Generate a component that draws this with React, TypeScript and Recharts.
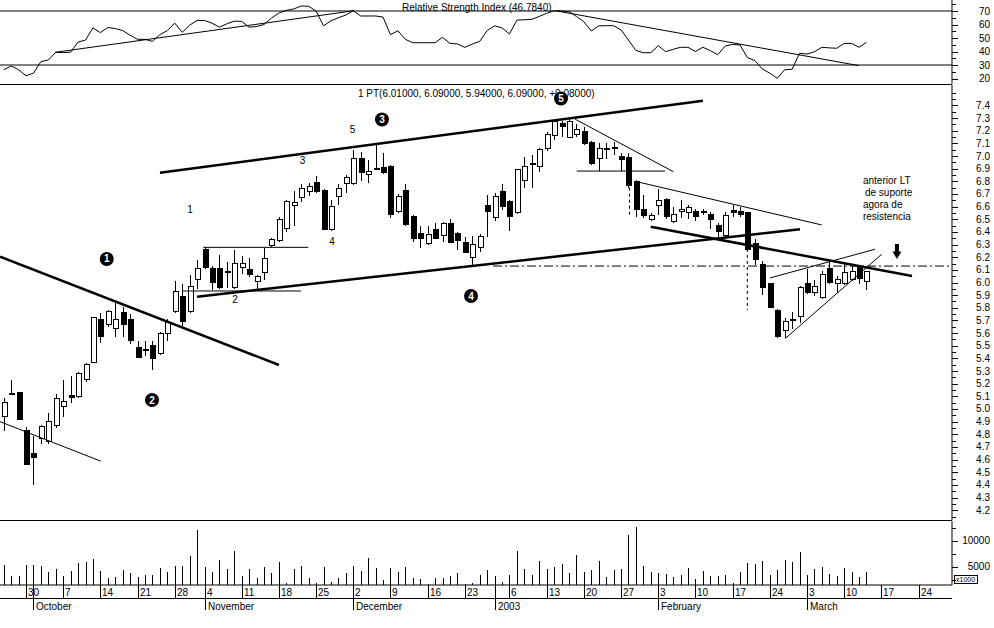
import React from "react";
import { ComposedChart, Bar, Line, XAxis, YAxis, ReferenceLine, ReferenceDot } from "recharts";

const FONT = "'Liberation Sans', Arial, sans-serif";
const INK = "#000";
const PLOT_RIGHT = 952;
const X_DOMAIN: [number, number] = [-0.5, 127.5];
const RSI_DOMAIN: [number, number] = [15.93, 78.15];
const PRICE_DOMAIN: [number, number] = [4.1225, 7.5613];
const VOL_DOMAIN: [number, number] = [1538, 13846];
const AX = 64; // x axis line inside the volume chart

// trading days (Lisbon), Sep 2002 - Mar 2003
const sepDays = [25, 26, 27, 30];
const octDays = [1, 2, 3, 4, 7, 8, 9, 10, 11, 14, 15, 16, 17, 18, 21, 22, 23, 24, 25, 28, 29, 30, 31];
const novDays = [4, 5, 6, 7, 8, 11, 12, 13, 14, 15, 18, 19, 20, 21, 22, 25, 26, 27, 28, 29];
const decDays = [2, 3, 4, 5, 6, 9, 10, 11, 12, 13, 16, 17, 18, 19, 20, 23, 27, 30, 31];
const janDays = [2, 3, 6, 7, 8, 9, 10, 13, 14, 15, 16, 17, 20, 21, 22, 23, 24, 27, 28, 29, 30, 31];
const febDays = [3, 4, 5, 6, 7, 10, 11, 12, 13, 14, 17, 18, 19, 20, 21, 24, 25, 26, 27, 28];
const marDays = [3, 4, 5, 6, 7, 10, 11, 12, 13, 14, 17, 18, 19, 20, 21, 24, 25, 26, 27, 28];

const openP = [
  4.94, 5.12, 5.13, 4.83, 4.65, 4.77, 4.74, 4.87, 5.02, 5.11,
  5.10, 5.23, 5.37, 5.71, 5.67, 5.64, 5.76, 5.71, 5.49, 5.46,
  5.50, 5.44, 5.60, 5.77, 5.89, 5.77, 6.02, 6.26, 6.11, 6.11,
  6.09, 5.96, 6.12, 6.10, 6.01, 6.08, 6.29, 6.33, 6.43, 6.61,
  6.67, 6.72, 6.79, 6.73, 6.42, 6.68, 6.78, 6.78, 6.98, 6.85,
  6.90, 6.91, 6.92, 6.56, 6.73, 6.52, 6.39, 6.31, 6.42, 6.37,
  6.47, 6.39, 6.32, 6.20, 6.28, 6.61, 6.51, 6.72, 6.64, 6.55,
  6.81, 6.93, 6.92, 7.06, 7.16, 7.26, 7.15, 7.17, 7.19, 7.11,
  6.98, 7.06, 7.06, 7.00, 6.99, 6.80, 6.58, 6.50, 6.61, 6.66,
  6.48, 6.56, 6.55, 6.56, 6.55, 6.54, 6.45, 6.37, 6.57, 6.56,
  6.55, 6.31, 6.14, 5.99, 5.78, 5.62, 5.70, 5.73, 5.99, 5.92,
  5.88, 6.11, 5.99, 5.99, 6.02, 6.13, 6.01,
];
const highP = [
  5.09, 5.23, 5.13, 4.86, 4.79, 4.87, 4.97, 5.12, 5.23, 5.26,
  5.29, 5.36, 5.73, 5.76, 5.78, 5.84, 5.81, 5.75, 5.54, 5.54,
  5.54, 5.61, 5.71, 6.01, 5.99, 6.06, 6.18, 6.28, 6.13, 6.22,
  6.16, 6.26, 6.21, 6.19, 6.06, 6.27, 6.35, 6.52, 6.65, 6.72,
  6.78, 6.79, 6.84, 6.74, 6.65, 6.78, 6.85, 7.05, 7.03, 6.97,
  7.09, 7.02, 6.93, 6.70, 6.78, 6.53, 6.45, 6.45, 6.47, 6.48,
  6.50, 6.40, 6.36, 6.37, 6.38, 6.69, 6.71, 6.78, 6.65, 6.90,
  6.99, 7.01, 7.06, 7.19, 7.28, 7.28, 7.30, 7.25, 7.23, 7.12,
  7.10, 7.10, 7.11, 7.02, 7.02, 6.81, 6.69, 6.55, 6.74, 6.67,
  6.60, 6.65, 6.61, 6.58, 6.58, 6.56, 6.47, 6.56, 6.61, 6.60,
  6.56, 6.34, 6.17, 6.00, 5.79, 5.72, 5.77, 5.97, 6.11, 6.02,
  6.09, 6.16, 6.05, 6.15, 6.14, 6.14, 6.09,
];
const lowP = [
  4.83, 5.11, 4.91, 4.56, 4.40, 4.72, 4.72, 4.85, 4.94, 5.05,
  5.09, 5.21, 5.36, 5.52, 5.65, 5.57, 5.57, 5.51, 5.41, 5.42,
  5.31, 5.43, 5.54, 5.76, 5.66, 5.76, 5.95, 6.11, 5.94, 5.95,
  5.96, 5.95, 6.07, 6.04, 5.94, 6.02, 6.28, 6.32, 6.40, 6.45,
  6.64, 6.68, 6.71, 6.42, 6.41, 6.61, 6.71, 6.77, 6.80, 6.79,
  6.89, 6.86, 6.51, 6.55, 6.45, 6.32, 6.27, 6.30, 6.34, 6.32,
  6.31, 6.26, 6.23, 6.13, 6.24, 6.36, 6.49, 6.57, 6.41, 6.54,
  6.75, 6.75, 6.87, 7.04, 7.13, 7.15, 7.14, 7.15, 7.09, 6.93,
  6.88, 6.98, 7.01, 6.88, 6.75, 6.52, 6.51, 6.49, 6.53, 6.50,
  6.47, 6.51, 6.50, 6.49, 6.53, 6.42, 6.36, 6.36, 6.52, 6.52,
  6.25, 6.14, 5.90, 5.80, 5.56, 5.56, 5.63, 5.68, 5.91, 5.89,
  5.87, 5.99, 5.92, 5.98, 6.01, 5.99, 5.94,
];
const closeP = [
  5.05, 5.12, 4.92, 4.56, 4.62, 4.86, 4.90, 5.08, 5.06, 5.09,
  5.28, 5.35, 5.72, 5.57, 5.77, 5.71, 5.67, 5.54, 5.41, 5.47,
  5.40, 5.60, 5.68, 5.93, 5.69, 5.97, 6.11, 6.12, 6.00, 5.96,
  6.08, 6.15, 6.15, 6.06, 6.05, 6.19, 6.34, 6.50, 6.64, 6.63,
  6.74, 6.76, 6.72, 6.42, 6.60, 6.74, 6.83, 6.98, 6.87, 6.88,
  6.90, 6.87, 6.54, 6.68, 6.46, 6.35, 6.35, 6.38, 6.35, 6.47,
  6.32, 6.33, 6.24, 6.30, 6.36, 6.56, 6.68, 6.60, 6.52, 6.89,
  6.92, 6.94, 7.05, 7.17, 7.27, 7.23, 7.27, 7.21, 7.10, 6.94,
  7.06, 7.06, 7.07, 6.97, 6.77, 6.58, 6.53, 6.53, 6.65, 6.52,
  6.54, 6.58, 6.59, 6.52, 6.56, 6.50, 6.40, 6.53, 6.55, 6.54,
  6.26, 6.18, 5.96, 5.80, 5.57, 5.69, 5.71, 5.96, 5.92, 5.97,
  6.06, 6.00, 6.02, 6.08, 6.09, 6.03, 6.09,
];
const volume = [
  5400, 3300, 3300, 5400, 5400, 5200, 4100, 4600, 3300, 4200,
  5700, 6000, 6500, 4200, 2900, 3100, 4400, 3800, 3100, 3500,
  3500, 4800, 4100, 5200, 5200, 7100, 12100, 5000, 4100, 6300,
  4600, 8100, 3300, 4600, 2900, 5000, 3800, 6000, 1900, 4600,
  5200, 2900, 1900, 5000, 2100, 2900, 3800, 5200, 4200, 6700,
  4800, 2500, 4800, 4100, 5000, 2900, 2700, 1700, 2900, 2900,
  3300, 3800, 1700, 1900, 3500, 4400, 3200, 2100, 3500, 8100,
  4600, 3500, 6200, 4600, 5000, 5600, 3800, 7300, 4000, 4400,
  6200, 3100, 4400, 4600, 11200, 12700, 5200, 4000, 3800, 3600,
  3100, 3500, 4800, 2700, 4200, 3300, 3300, 3500, 1900, 4000,
  5800, 5600, 6200, 3500, 4400, 6300, 6000, 7900, 3500, 4600,
  5000, 3600, 3300, 4800, 4000, 3100, 4000,
];
const rsi = [
  26.5, 29.3, 26.5, 22, 24, 32.5, 33.7, 39.4, 39.2, 39.5,
  47, 48.5, 57.5, 54, 57.8, 57, 55.5, 52, 49, 49,
  47.5, 52.5, 55.5, 61, 54.2, 59.5, 63, 63, 61, 58,
  60.5, 62.5, 62.3, 58, 58.5, 60, 64.8, 68.5, 70.5, 71.5,
  73.7, 73.5, 70, 59, 62.8, 65, 67, 70.2, 66.3, 66.3,
  66.3, 65.5, 52.5, 55.4, 49, 46.5, 46.5, 46.5, 46.5, 50.5,
  46, 45.6, 43.1, 45.5, 47.5, 55.5, 59, 57.5, 53, 63.3,
  63.5, 63.8, 66, 68.3, 70.2, 70, 69.5, 66, 62.1, 55.2,
  59, 59.1, 59.1, 56, 48.5, 40.8, 39.1, 39.1, 44.3, 39.9,
  41.6, 43.1, 43.1, 40, 43.1, 40.7, 37.6, 44, 45.3, 44.8,
  35.5, 33.3, 27, 24, 20.2, 26.5, 26.8, 38.7, 38.1, 39.8,
  43.1, 42.7, 42.4, 46, 46, 43.1, 46.8,
];

const weekTicks: [string, string][] = [
  ["09-30", "30"], ["10-07", "7"], ["10-14", "14"], ["10-21", "21"], ["10-28", "28"],
  ["11-04", "4"], ["11-11", "11"], ["11-18", "18"], ["11-25", "25"],
  ["12-02", "2"], ["12-09", "9"], ["12-16", "16"], ["12-23", "23"],
  ["01-06", "6"], ["01-13", "13"], ["01-20", "20"], ["01-27", "27"],
  ["02-03", "3"], ["02-10", "10"], ["02-17", "17"], ["02-24", "24"],
  ["03-03", "3"], ["03-10", "10"], ["03-17", "17"], ["03-24", "24"],
];
const monthTicks: [string, string][] = [
  ["10-01", "October"], ["11-04", "November"], ["12-02", "December"],
  ["01-02", "2003"], ["02-03", "February"], ["03-03", "March"],
];

const rsiTicks = [20, 25, 30, 35, 40, 45, 50, 55, 60, 65, 70, 75];
const rsiLabels = [20, 30, 40, 50, 60, 70];
const priceLabels = [
  4.2, 4.3, 4.4, 4.5, 4.6, 4.7, 4.8, 4.9, 5.0, 5.1, 5.2, 5.3, 5.4, 5.5, 5.6, 5.7, 5.8,
  5.9, 6.0, 6.1, 6.2, 6.3, 6.4, 6.5, 6.6, 6.7, 6.8, 6.9, 7.0, 7.1, 7.2, 7.3, 7.4,
];
const priceTicks = [4.15, ...priceLabels.map((v) => +(v + 0.05).toFixed(2)), ...priceLabels, 7.5];
const volTicks = [2500, 5000, 7500, 10000, 12500];
const volLabels = [5000, 10000];

type Seg = { x1: number; y1: number; x2: number; y2: number; w: number; dash?: string };
const priceLines: Seg[] = [
  { x1: -0.5, y1: 6.204, x2: 37.01, y2: 5.348, w: 2.5 },
  { x1: -0.5, y1: 4.9, x2: 13.04, y2: 4.588, w: 1 },
  { x1: 21.01, y1: 6.868, x2: 94.02, y2: 7.437, w: 2.5 },
  { x1: 25.99, y1: 5.888, x2: 107.06, y2: 6.421, w: 2.5 },
  { x1: 86.99, y1: 6.441, x2: 122.12, y2: 6.051, w: 2.5 },
  { x1: 85.11, y1: 6.797, x2: 109.98, y2: 6.455, w: 1 },
  { x1: 76.81, y1: 7.292, x2: 90.03, y2: 6.876, w: 1 },
  { x1: 77.04, y1: 6.881, x2: 88.91, y2: 6.881, w: 1 },
  { x1: 26.83, y1: 6.278, x2: 40.95, y2: 6.278, w: 1 },
  { x1: 24.06, y1: 5.933, x2: 39.97, y2: 5.933, w: 1 },
  { x1: 65.79, y1: 6.13, x2: 127.5, y2: 6.13, w: 1, dash: "9 3 2 3" },
  { x1: 84.14, y1: 6.797, x2: 84.14, y2: 6.52, w: 1, dash: "3 3" },
  { x1: 99.98, y1: 6.265, x2: 99.98, y2: 5.783, w: 1, dash: "3 3" },
  { x1: 103.03, y1: 6.036, x2: 117.15, y2: 6.263, w: 1 },
  { x1: 105.11, y1: 5.559, x2: 118.05, y2: 6.223, w: 1 },
];
const rsiLines: Seg[] = [
  { x1: 6.89, y1: 39.4, x2: 47.1, y2: 70.2, w: 1 },
  { x1: 74.39, y1: 70, x2: 115.0, y2: 29.5, w: 1 },
];

const circledMarks = [
  { i: 13.85, p: 6.186, n: "1" },
  { i: 19.94, p: 5.071, n: "2" },
  { i: 50.86, p: 7.289, n: "3" },
  { i: 62.83, p: 5.893, n: "4" },
  { i: 74.93, p: 7.455, n: "5" },
];
const waveLabels = [
  { i: 25.05, p: 6.581, t: "1" },
  { i: 31.1, p: 5.862, t: "2" },
  { i: 40.17, p: 6.964, t: "3" },
  { i: 44.14, p: 6.324, t: "4" },
  { i: 46.9, p: 7.206, t: "5" },
];
const noteLines = ["anterior LT", "de suporte", "agora de", "resistencia"];
const noteAnchor = { i: 115.53, p: 6.81 };
const arrowTip = { i: 120.1, p: 6.186 };

const months: [string, number[]][] = [
  ["09", sepDays], ["10", octDays], ["11", novDays], ["12", decDays],
  ["01", janDays], ["02", febDays], ["03", marDays],
];
const days = months.flatMap(([m, ds]) => ds.map((d) => `${m}-${String(d).padStart(2, "0")}`));
const rows = days.map((key, i) =>
  i < closeP.length
    ? { i, key, o: openP[i], h: highP[i], l: lowP[i], c: closeP[i], range: [lowP[i], highP[i]], vol: volume[i], rsi: rsi[i] }
    : { i, key }
);
const weekLabel = new Map(weekTicks);
const monthLabel = new Map(monthTicks);

function Candle(props: any) {
  const { x, y, width, height, payload } = props;
  if (!payload || payload.o == null || height == null) return null;
  const { o, c, h, l } = payload;
  const top = Math.min(y, y + height);
  const span = Math.abs(height);
  const k = span / (h - l);
  const cx = Math.round(x + width / 2) + 0.5;
  const bTop = top + (h - Math.max(o, c)) * k;
  const bBot = top + (h - Math.min(o, c)) * k;
  const up = c >= o;
  return (
    <g shapeRendering="crispEdges">
      <line x1={cx} x2={cx} y1={top} y2={top + span} stroke={INK} />
      <rect x={cx - 2.5} y={bTop} width={5} height={Math.max(bBot - bTop, 1)} fill={up ? "#fff" : INK} stroke={INK} />
    </g>
  );
}

function VolumeStick(props: any) {
  const { x, y, width, height, payload } = props;
  if (!payload || payload.vol == null) return null;
  const cx = Math.round(x + width / 2) + 0.5;
  return <line x1={cx} x2={cx} y1={Math.min(y, y + height)} y2={Math.max(y, y + height)} stroke={INK} shapeRendering="crispEdges" />;
}

function makeTick(labels: number[], fmt: (v: number) => string) {
  const set = new Set(labels.map((v) => v.toFixed(2)));
  return (props: any) => {
    const { y, payload } = props;
    const v = payload.value as number;
    const major = set.has(v.toFixed(2));
    const yy = Math.round(y) + 0.5;
    return (
      <g>
        <line x1={PLOT_RIGHT} x2={PLOT_RIGHT + (major ? 6 : 4)} y1={yy} y2={yy} stroke={INK} shapeRendering="crispEdges" />
        {major && (
          <text x={990} y={y + 3.5} textAnchor="end" fontSize={10} fontFamily={FONT} fill={INK}>
            {fmt(v)}
          </text>
        )}
      </g>
    );
  };
}
const rsiTick = makeTick(rsiLabels, (v) => String(v));
const priceTick = makeTick(priceLabels, (v) => v.toFixed(1));
const volTick = makeTick(volLabels, (v) => String(v));

function DateTick(props: any) {
  const { x, payload } = props;
  const key = days[payload.value];
  const wk = weekLabel.get(key);
  const mo = monthLabel.get(key);
  const lx = Math.round(x) + 0.5;
  return (
    <g>
      {wk !== undefined && (
        <>
          <line x1={lx} x2={lx} y1={AX} y2={AX + 13} stroke={INK} shapeRendering="crispEdges" />
          <text x={lx + 1.5} y={AX + 11} fontSize={10} fontFamily={FONT} fill={INK}>{wk}</text>
        </>
      )}
      {mo !== undefined && (
        <>
          <line x1={lx} x2={lx} y1={AX} y2={AX + 25} stroke={INK} shapeRendering="crispEdges" />
          <text x={lx + 2.5} y={AX + 24.5} fontSize={10} fontFamily={FONT} fill={INK}>{mo}</text>
        </>
      )}
    </g>
  );
}

const seg = (s: Seg) => [{ x: s.x1, y: s.y1 }, { x: s.x2, y: s.y2 }];

export default function App() {
  return (
    <div style={{ position: "absolute", left: 0, top: 0, width: 994, height: 628, background: "#fff" }}>
      <svg width={994} height={628} style={{ position: "absolute", left: 0, top: 0 }}>
        <g stroke={INK} shapeRendering="crispEdges">
          <line x1={0} x2={PLOT_RIGHT} y1={84.5} y2={84.5} />
          <line x1={0} x2={PLOT_RIGHT} y1={520.5} y2={520.5} />
          <line x1={0} x2={PLOT_RIGHT} y1={598.5} y2={598.5} />
          <rect x={954.5} y={575.5} width={23} height={8} fill="#fff" />
        </g>
        <g fontFamily={FONT} fill={INK}>
          <text x={402} y={11} fontSize={10}>Relative Strength Index (46.7840)</text>
          <text x={358} y={97} fontSize={10}>1 PT(6.01000, 6.09000, 5.94000, 6.09000, +0.08000)</text>
          <text x={956} y={582} fontSize={7}>x1000</text>
        </g>
      </svg>

      <div style={{ position: "absolute", left: 0, top: 0 }}>
        <ComposedChart width={994} height={85} data={rows} margin={{ top: 0, right: 0, bottom: 1, left: 0 }}>
          <XAxis dataKey="i" type="number" domain={X_DOMAIN} hide />
          <YAxis orientation="right" width={42} domain={RSI_DOMAIN} ticks={rsiTicks} interval={0} tick={rsiTick} tickLine={false} axisLine={{ stroke: INK }} allowDataOverflow />
          <ReferenceLine y={70} stroke={INK} />
          <ReferenceLine y={30} stroke={INK} />
          {rsiLines.map((s, k) => (
            <ReferenceLine key={k} segment={seg(s)} stroke={INK} strokeWidth={s.w} ifOverflow="hidden" />
          ))}
          <Line dataKey="rsi" type="linear" stroke={INK} strokeWidth={1} dot={false} activeDot={false} isAnimationActive={false} />
        </ComposedChart>
      </div>

      <div style={{ position: "absolute", left: 0, top: 85 }}>
        <ComposedChart width={994} height={436} data={rows} margin={{ top: 0, right: 0, bottom: 1, left: 0 }}>
          <XAxis xAxisId="cat" dataKey="i" type="category" hide />
          <XAxis xAxisId="num" dataKey="i" type="number" domain={X_DOMAIN} hide />
          <YAxis orientation="right" width={42} domain={PRICE_DOMAIN} ticks={priceTicks} interval={0} tick={priceTick} tickLine={false} axisLine={{ stroke: INK }} allowDataOverflow />
          <Bar xAxisId="cat" dataKey="range" shape={(p: any) => <Candle {...p} />} activeBar={false} isAnimationActive={false} />
          {priceLines.map((s, k) => (
            <ReferenceLine key={k} xAxisId="num" segment={seg(s)} stroke={INK} strokeWidth={s.w} strokeDasharray={s.dash} ifOverflow="hidden" />
          ))}
          {circledMarks.map((m) => (
            <ReferenceDot
              key={`c${m.n}`}
              xAxisId="num"
              x={m.i}
              y={m.p}
              r={7}
              shape={(p: any) => (
                <g>
                  <circle cx={p.cx} cy={p.cy} r={7} fill={INK} />
                  <text x={p.cx} y={p.cy + 3.5} textAnchor="middle" fontSize={10} fontWeight="bold" fontFamily={FONT} fill="#fff">{m.n}</text>
                </g>
              )}
            />
          ))}
          {waveLabels.map((m) => (
            <ReferenceDot
              key={`w${m.t}`}
              xAxisId="num"
              x={m.i}
              y={m.p}
              r={1}
              shape={(p: any) => (
                <text x={p.cx} y={p.cy + 3.5} textAnchor="middle" fontSize={10} fontFamily={FONT} fill={INK}>{m.t}</text>
              )}
            />
          ))}
          <ReferenceDot
            xAxisId="num"
            x={noteAnchor.i}
            y={noteAnchor.p}
            r={1}
            shape={(p: any) => (
              <g fontSize={10} fontFamily={FONT} fill={INK}>
                {noteLines.map((t, k) => (
                  <text key={k} x={p.cx + (k === 1 ? 2 : 0)} y={p.cy + 3.5 + k * 12.2}>{t}</text>
                ))}
              </g>
            )}
          />
          <ReferenceDot
            xAxisId="num"
            x={arrowTip.i}
            y={arrowTip.p}
            r={1}
            shape={(p: any) => (
              <g fill={INK}>
                <rect x={p.cx - 2} y={p.cy - 15} width={4} height={8} />
                <polygon points={`${p.cx - 4.5},${p.cy - 7.5} ${p.cx + 4.5},${p.cy - 7.5} ${p.cx},${p.cy}`} />
              </g>
            )}
          />
        </ComposedChart>
      </div>

      <div style={{ position: "absolute", left: 0, top: 521 }}>
        <ComposedChart width={994} height={107} data={rows} margin={{ top: 0, right: 0, bottom: 0, left: 0 }}>
          <XAxis dataKey="i" type="category" interval={0} height={43} tickSize={0} tickMargin={0} tickLine={false} axisLine={{ stroke: INK }} tick={DateTick} />
          <YAxis orientation="right" width={42} domain={VOL_DOMAIN} ticks={volTicks} interval={0} tick={volTick} tickLine={false} axisLine={{ stroke: INK }} allowDataOverflow />
          <Bar dataKey="vol" shape={(p: any) => <VolumeStick {...p} />} activeBar={false} isAnimationActive={false} />
        </ComposedChart>
      </div>
    </div>
  );
}
